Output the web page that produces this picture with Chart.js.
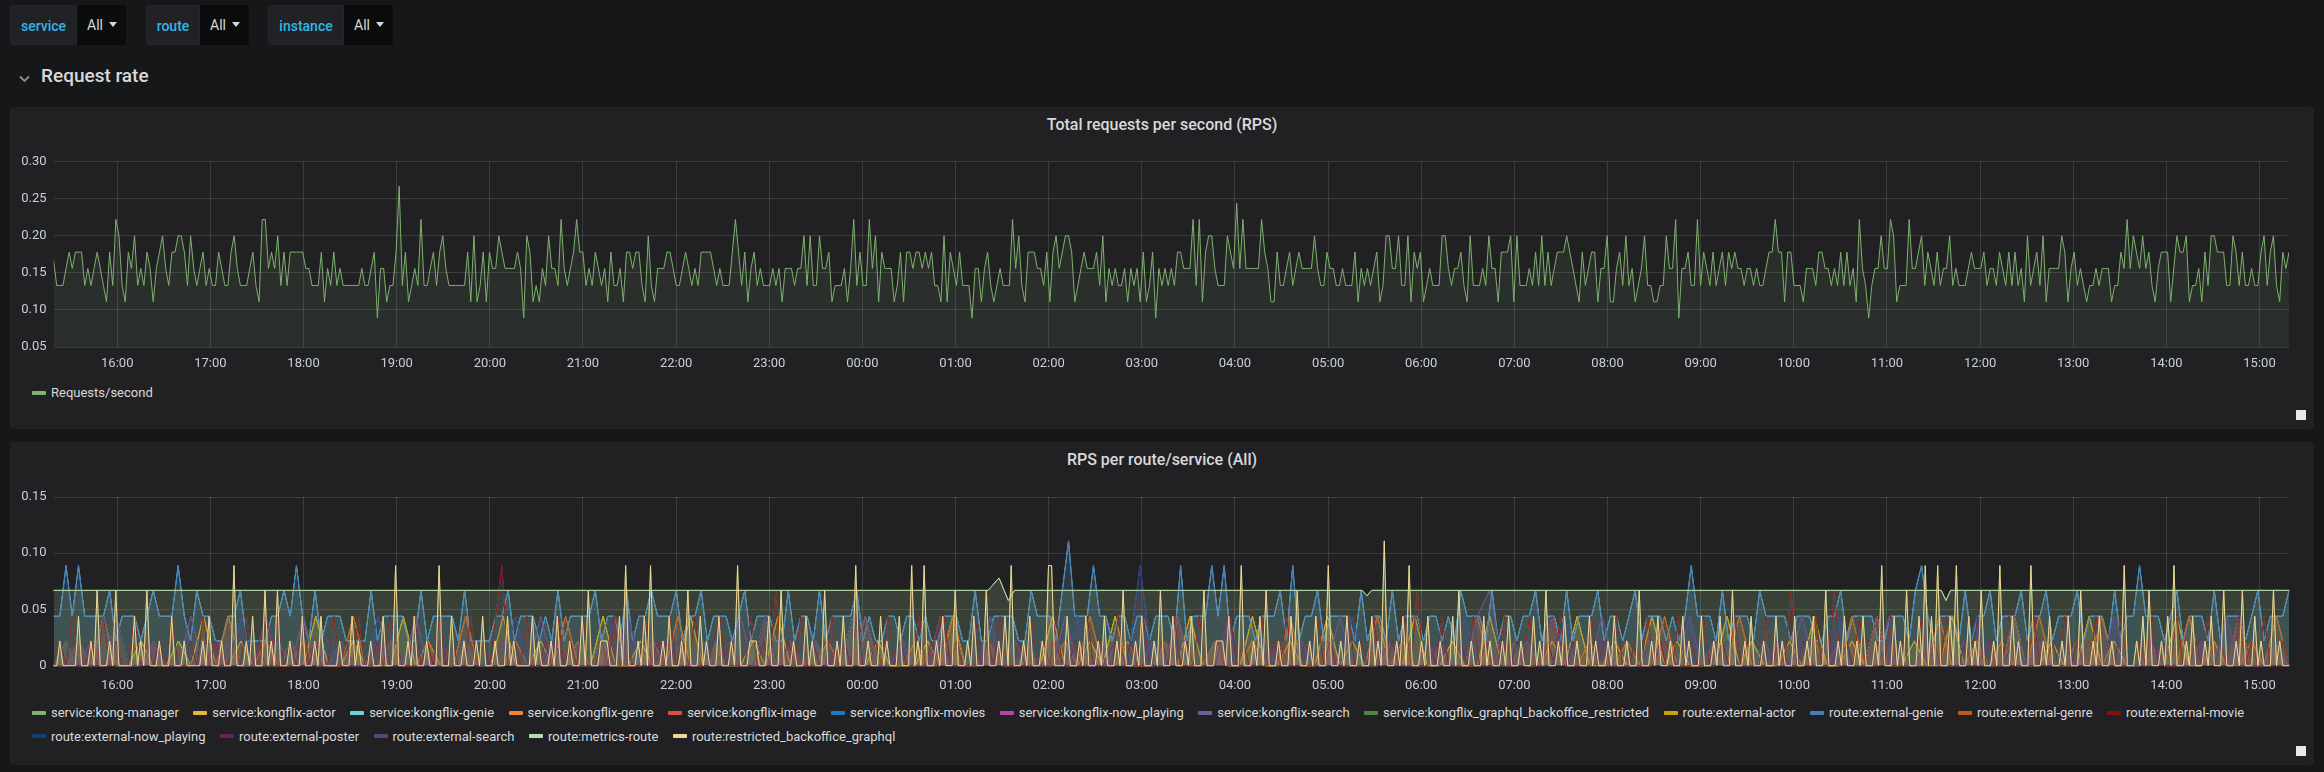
<!DOCTYPE html>
<html>
<head>
<meta charset="utf-8">
<script src="https://cdn.jsdelivr.net/npm/chart.js@4.4.1/dist/chart.umd.min.js"></script>
<style>
  html, body { margin: 0; padding: 0; }
  body { width: 2324px; height: 772px; background: #161719; font-family: Roboto, sans-serif; color: #d8d9da; position: relative; overflow: hidden; }
  .var { position: absolute; top: 5px; height: 40px; display: flex; font-size: 14px; }
  .var .lbl { background: #202226; color: #33b5e5; line-height: 40px; text-align: center; border-radius: 3px 0 0 3px; font-weight: 500; border: 1px solid #26282c; box-sizing: border-box; }
  .var .val { background: #0b0c0e; color: #d8d9da; line-height: 40px; padding-left: 10px; border-radius: 0 3px 3px 0; box-sizing: border-box; }
  .caret { display: inline-block; width: 0; height: 0; border-left: 4px solid transparent; border-right: 4px solid transparent; border-top: 5px solid #d8d9da; margin-left: 6px; vertical-align: middle; position: relative; top: -2px; }
  .row-title { position: absolute; left: 41px; top: 64px; line-height: 24px; font-size: 19px; font-weight: 500; color: #d8d9da; }
  .chev { position: absolute; left: 19px; top: 75px; }
  .panel { position: absolute; left: 10px; width: 2304px; background: #212124; border-radius: 3px; }
  .ptitle { position: absolute; left: 0; right: 0; top: 8px; line-height: 20px; text-align: center; font-size: 16px; font-weight: 500; color: #d8d9da; }
  .panel canvas { position: absolute; left: 0; }
  .legend { position: absolute; left: 22px; right: 20px; display: flex; flex-wrap: wrap; font-size: 13px; color: #d8d9da; }
  .item { display: flex; align-items: center; margin-right: 14.5px; height: 23.7px; white-space: nowrap; }
  .sw { width: 14px; height: 4px; margin-right: 5px; border-radius: 1px; }
  .brk { flex-basis: 100%; height: 0; }
  .handle { position: absolute; width: 10px; height: 10px; background: #e9e9e9; }
</style>
</head>
<body>

<div class="var" style="left:10px"><div class="lbl" style="width:67px">service</div><div class="val" style="width:49px">All<span class="caret"></span></div></div>
<div class="var" style="left:146px"><div class="lbl" style="width:54px">route</div><div class="val" style="width:49px">All<span class="caret"></span></div></div>
<div class="var" style="left:268px"><div class="lbl" style="width:76px">instance</div><div class="val" style="width:49px">All<span class="caret"></span></div></div>

<svg class="chev" width="12" height="8"><polyline points="1,1.5 5.5,6 10,1.5" fill="none" stroke="#8e8e8e" stroke-width="1.8"/></svg>
<div class="row-title">Request rate</div>

<div class="panel" style="top:107px;height:322px">
  <div class="ptitle">Total requests per second (RPS)</div>
  <canvas id="rpsChart" width="2304" height="240" style="top:33px;width:2304px;height:240px"></canvas>
  <div class="legend" id="rpsLegend" style="top:274px"></div>
  <div class="handle" style="left:2286px;top:303px"></div>
</div>

<div class="panel" style="top:442px;height:323px">
  <div class="ptitle">RPS per route/service (All)</div>
  <canvas id="routeChart" width="2304" height="220" style="top:38px;width:2304px;height:220px"></canvas>
  <div class="legend" id="routeLegend" style="top:258.7px"></div>
  <div class="handle" style="left:2286px;top:304px"></div>
</div>

<script>
// x axis: 24h window starting 15:19, one tick per hour
const hourLabels = ['16:00','17:00','18:00','19:00','20:00','21:00','22:00','23:00','00:00','01:00','02:00','03:00',
  '04:00','05:00','06:00','07:00','08:00','09:00','10:00','11:00','12:00','13:00','14:00','15:00'];
const rangeMinutes = 1440;
const firstHourMinute = 41;

const rpsTicks = [0.05, 0.10, 0.15, 0.20, 0.25, 0.30];
const routeTicks = [0, 0.05, 0.10, 0.15];

// total requests per second, one value every ~2 minutes
const totalRps = [
  .167,.133,.133,.133,.156,.178,.156,.178,.178,.178,.133,.156,.133,.156,.178,.156,.133,.111,.178,.133,
  .222,.2,.133,.111,.178,.156,.2,.133,.156,.133,.178,.156,.111,.156,.178,.2,.156,.133,.178,.178,
  .2,.2,.178,.133,.2,.156,.133,.156,.178,.133,.156,.133,.133,.178,.156,.133,.133,.178,.2,.156,
  .133,.133,.133,.156,.178,.133,.111,.222,.222,.156,.178,.156,.2,.133,.178,.133,.178,.178,.178,.178,
  .178,.156,.156,.133,.133,.133,.178,.111,.156,.133,.178,.133,.156,.133,.133,.133,.133,.133,.133,.156,
  .133,.133,.156,.178,.089,.156,.156,.111,.133,.133,.178,.267,.133,.178,.111,.133,.156,.133,.222,.133,
  .133,.156,.178,.133,.178,.2,.156,.133,.133,.133,.133,.133,.133,.178,.111,.2,.111,.133,.178,.111,
  .178,.156,.156,.2,.178,.156,.156,.156,.156,.178,.156,.089,.2,.178,.111,.133,.111,.156,.133,.2,
  .156,.156,.133,.222,.156,.133,.156,.178,.222,.178,.178,.133,.156,.133,.178,.156,.133,.156,.111,.178,
  .133,.133,.156,
  .111,.178,.178,.156,.178,.178,.133,.111,.2,.133,.111,.156,.156,.156,.178,.178,.156,.133,.133,.156,
  .178,.156,.133,.156,.133,.178,.178,.178,.178,.156,.133,.156,.133,.133,.133,.178,.222,.178,.133,.178,
  .111,.156,.178,.133,.156,.133,.133,.133,.156,.133,.156,.111,.156,.156,.156,.133,.156,.156,.2,.133,
  .2,.133,.133,.2,.156,.156,.178,.111,.133,.133,.133,.156,.111,.156,.222,.133,.178,.133,.133,.222,
  .156,.2,.111,.178,.156,.156,.156,.111,.133,.178,.111,.178,.178,.156,.178,.178,.156,.178,.156,.178,
  .133,.133,.111,.2,.111,.178,.156,.133,.178,.133,.133,.133,.089,.156,.156,.111,.156,.178,.133,.111,
  .133,.156,.133,.133,.133,.222,.156,.2,.133,.111,.178,.178,.178,.156,.156,.133,.178,.111,.178,.2,
  .156,.178,.2,.2,.178,.111,.133,.156,.178,.156,.156,.156,.178,.133,.2,.111,.156,.133,.156,.133,
  .133,.156,.111,.156,.133,.156,.111,.178,.111,.133,.178,.089,.156,.133,.156,.133,.156,.133,.178,
  .178,.156,.156,.156,.222,.133,.222,.111,.178,.2,.2,.156,.133,.133,.133,.2,.178,.156,.244,.156,
  .222,.156,.156,.156,.156,.156,.222,.178,.156,.111,.111,.178,.133,.133,.156,.178,.133,.156,.178,.156,
  .156,.156,.156,.2,.156,.133,.133,.178,.156,.156,.133,.133,.156,.133,.133,.133,.178,.111,.156,.133,
  .156,.133,.156,.178,.111,.133,.2,.2,.156,.156,.2,.133,.133,.2,.111,.178,.156,.178,.111,.133,
  .156,.133,.133,.133,.2,.2,.156,.133,.156,.156,.178,.133,.111,.2,.133,.133,.133,.156,.133,.2,
  .156,.156,.111,.178,.178,.178,.2,.111,.2,.133,.133,.133,.156,.133,.178,.133,.2,.133,.178,.133,
  .156,.178,.178,.178,.2,.178,.156,.133,.111,.178,.133,.156,.178,.178,.111,.156,.156,.2,.111,.111,
  .156,.178,.133,.2,.133,.156,.111,.133,.156,.2,.133,.133,.111,.111,.133,.133,.2,.156,.156,.222,
  .089,.156,.156,.178,.133,.133,.222,.133,.178,.156,.133,.178,.133,.156,.178,.133,.178,.156,.178,.156,
  .156,.133,.156,.156,.133,.156,.133,.133,.156,.178,.178,.222,.178,.178,.111,.178,.178,.133,.133,.133,
  .111,.156,.156,.156,.133,.178,.178,.156,.156,.133,.156,.133,.178,.133,.178,.133,.156,.111,.222,.156,
  .133,.089,.133,.156,.156,.2,.156,.156,.222,.2,.111,.133,.133,.133,.222,.156,.156,.178,.2,.133,
  .178,.156,.133,.178,.133,.156,.156,.2,.133,.156,.133,.133,.133,.156,.178,.156,.156,.156,.178,.133,
  .156,.156,.133,.178,.156,.133,.178,.133,.178,.133,.156,.111,.2,.133,.156,.178,.133,.2,.111,.156,
  .156,.156,.156,.2,.178,.111,.156,.178,.133,.156,.133,.111,.133,.133,.156,.133,.156,.156,.156,.111,
  .133,.133,.178,.156,.222,.156,.2,.178,.156,.2,.156,.178,.133,.111,.156,.178,.178,.178,.111,.156,
  .2,.178,.178,.2,.111,.133,.133,.156,.111,.178,.133,.2,.2,.178,.178,.178,.133,.133,.2,.178,
  .133,.178,.133,.133,.156,.133,.133,.178,.2,.133,.178,.2,.133,.111,.178,.156,.178
];

// kong-manager / metrics-route: flat with a few wiggles (minute, value)
const metricsMinutes = [0, 602, 609, 615, 619, 843, 846, 849, 1216, 1219, 1222, 1440];
const metricsRoute = [.067, .067, .078, .058, .067, .067, .062, .067, .067, .058, .067, .067];

// restricted backoffice graphql, every ~2 minutes
const backofficeGraphql = [
  0,0,.022,0,0,0,0,0,.044,0,0,0,.022,0,.067,0,0,0,.022,0,.067,0,0,0,0,0,.044,0,.022,0,.067,0,0,0,.022,0,0,0,.044,0,
  0,0,.022,0,0,0,0,0,.022,0,.044,0,0,0,.022,0,0,0,.089,0,0,0,.022,0,.044,0,0,0,.067,0,.022,0,.067,0,0,0,.022,0,0,0,
  .044,0,0,0,.022,0,.044,0,0,0,0,0,.022,0,0,0,.044,0,.022,0,0,0,.022,0,0,0,.044,0,0,0,.089,0,0,0,.022,0,.044,0,0,0,
  .022,0,0,0,.089,0,0,0,.044,0,0,0,.022,0,0,0,.022,0,.044,0,0,0,.022,0,0,0,.044,0,.022,0,0,0,0,0,.044,0,.022,0,0,0,
  .022,0,.044,0,0,0,.022,0,0,0,.044,0,.067,0,0,0,.022,.022,.022,0,0,0,.044,0,.089,0,0,0,.022,0,.044,0,.089,0,0,0,.022,0,.044,0,
  0,0,.022,0,.067,0,0,0,.044,0,.022,0,0,0,.044,0,0,0,.022,0,.089,0,0,0,.022,.022,.022,0,0,0,.044,0,0,0,.067,0,0,0,.022,0,
  0,0,.044,0,.022,0,0,0,.067,0,0,0,.022,0,.044,0,0,0,.089,0,0,0,.022,0,0,0,.044,0,.022,0,0,0,.044,0,0,0,.089,0,.022,0,
  .089,0,0,0,.022,0,.044,0,0,0,.067,0,0,0,.022,0,.044,0,0,0,.067,0,0,0,.022,0,.044,0,.089,0,0,0,.022,0,.044,0,0,0,.022,0,
  .089,.089,0,0,0,0,.044,0,0,0,.022,0,.044,0,0,0,.022,0,.044,0,0,0,.022,0,.067,0,0,0,.022,0,.044,0,0,0,.022,0,.067,0,0,0,
  .044,0,0,0,.022,0,.044,0,0,0,.067,0,0,0,.022,.022,.022,0,.044,0,0,0,.089,0,0,0,.022,0,.044,0,.067,0,0,0,.022,0,0,0,.044,0,
  .067,0,0,0,.022,0,.044,0,0,0,.089,0,0,0,.022,0,.044,0,0,0,.022,0,0,0,.044,0,.022,0,.111,0,0,0,.022,0,.044,0,.089,0,0,0,
  .022,0,.044,0,0,0,.022,0,0,0,.044,0,.067,0,0,0,.022,0,0,0,.044,0,.022,0,0,0,.022,0,.044,0,0,0,.022,0,0,0,.044,0,.022,0,
  .067,0,0,0,.022,0,.044,0,0,0,.022,0,0,0,.044,0,.022,0,0,0,.022,0,.044,0,0,0,.022,0,0,0,.067,0,0,0,.022,0,.044,0,0,0,
  .022,0,0,0,.044,0,.022,0,0,0,.044,0,0,0,.022,0,.044,0,0,0,.067,0,0,0,.022,0,.044,0,0,0,.022,0,0,0,.044,0,.022,0,0,0,
  .044,0,0,0,.022,0,.044,0,0,0,.067,0,0,0,.022,0,.044,0,0,0,.022,0,.044,0,0,0,.022,0,.089,0,0,0,.044,0,.022,0,.067,0,0,0,
  .044,0,.089,0,.044,0,.089,0,0,0,.044,0,.089,0,0,0,.044,0,.022,0,.067,0,0,0,.022,0,.089,0,0,0,.044,0,.022,0,0,0,.089,0,0,0,
  .022,0,.044,0,0,0,.022,0,.044,0,0,0,.067,0,0,0,.022,0,.044,0,0,0,.022,0,0,0,.089,0,0,0,.022,0,.044,0,.067,0,0,0,.022,0,
  .044,0,.089,0,0,0,.022,0,.044,0,0,0,.022,0,.044,0,0,0,.067,0,0,0,.022,0,.067,0,0,0,.044,0,.022,0,0,0,.067,0,.022,0,0,0
];

// kongflix-genie / external-genie, every ~4 minutes
const kongflixGenie = [
  .044,.044,.089,.044,.089,.044,.044,.044,.044,.067,.022,.044,.044,.044,.022,.044,.067,.044,.044,.044,
  .089,.044,.022,.067,.044,.044,.022,.022,.044,.044,.067,.022,.022,.022,.022,.044,.044,.067,.044,.089,
  .044,.022,.067,.022,.044,.044,.044,.022,.022,.022,.022,.067,.022,.044,.044,.044,.044,.022,.022,.067,
  .022,.044,.044,.044,.044,.022,.067,.022,.022,.022,.022,.044,.044,.067,.022,.044,.044,.044,.022,.044,
  .022,.067,.022,.044,.044,.044,.044,.067,.022,.044,.044,.022,.067,.022,.044,.044,.067,.044,.044,.044,
  .067,.022,.044,.044,.067,.022,.044,.044,.044,.022,.044,.067,.022,.044,.044,.044,.022,.022,.067,.022,
  .044,.044,.022,.067,.022,.044,.044,.044,.044,.067,.022,.044,.022,.022,.044,.044,.022,.044,.044,.022,
  .044,.022,.022,.044,.044,.044,.022,.022,.067,.022,.022,.044,.044,.044,.044,.022,.022,.067,.044,.044,
  .044,.022,.067,.111,.044,.044,.044,.089,.044,.044,.022,.044,.044,.022,.044,.044,.022,.044,.044,.044,
  .022,.089,.022,.044,.044,.044,.089,.044,.089,.022,.044,.044,.044,.022,.044,.044,.044,.067,.022,.089,
  .022,.044,.044,.067,.022,.044,.044,.044,.044,.022,.067,.022,.044,.044,.022,.067,.022,.044,.044,.044,
  .022,.044,.044,.022,.044,.022,.067,.044,.044,.044,.022,.067,.022,.044,.044,.022,.044,.044,.067,.022,
  .044,.044,.022,.067,.022,.044,.044,.044,.067,.022,.044,.044,.022,.044,.067,.022,.044,.044,.044,.022,
  .044,.022,.044,.089,.044,.044,.044,.022,.067,.022,.044,.044,.044,.022,.067,.044,.044,.044,.044,.022,
  .044,.044,.044,.022,.022,.044,.044,.067,.022,.044,.044,.044,.044,.022,.022,.044,.044,.044,.022,.067,
  .089,.044,.022,.044,.044,.044,.022,.067,.022,.044,.044,.067,.022,.044,.044,.044,.067,.022,.044,.044,
  .067,.022,.044,.044,.044,.067,.022,.044,.044,.044,.022,.067,.022,.044,.044,.089,.044,.044,.044,.022,
  .044,.067,.022,.044,.044,.044,.022,.067,.022,.044,.044,.044,.022,.044,.067,.022,.044,.044,.044,.067
];

// kongflix-movies / external-movie, every ~4 minutes
const kongflixMovies = [
  0,.022,0,.044,0,0,.022,0,.044,0,.022,0,0,.044,0,.022,0,.022,0,.044,
  0,0,.022,0,.044,0,.022,0,0,.022,0,.044,0,.022,0,0,.044,0,.022,0,
  .044,0,.022,0,0,.044,0,.022,0,.044,0,0,.022,0,.044,.022,0,0,.044,0,
  .022,0,.044,0,.022,0,0,.044,0,.022,0,.044,.089,0,.022,0,.044,0,0,.022,
  0,.044,0,.022,0,.044,0,0,.022,0,.044,0,.022,0,0,.044,0,.022,0,.044,
  0,.022,0,.044,0,0,.022,.044,0,.022,0,0,.044,0,.022,0,.067,0,.022,0,
  .044,0,.022,0,0,.044,0,.022,0,.044,0,0,.022,0,.044,0,.022,0,0,.044,
  0,.022,0,.044,0,.022,0,0,.044,0,.022,0,.044,0,0,.022,0,.044,0,.022,
  0,.044,0,0,.022,0,.044,0,.022,0,0,.044,0,.022,0,.044,0,0,.022,0,
  .044,0,.022,0,.044,0,0,.022,0,.044,0,.022,0,0,.044,0,.022,0,.044,0,
  0,.022,0,.044,0,.022,0,0,.044,0,.022,0,.044,0,0,.022,0,.044,0,.067,
  0,.022,0,.044,0,0,.022,0,.044,0,.022,0,0,.044,0,.022,0,.044,0,0,
  .022,0,.044,0,.022,0,0,.044,0,.022,0,.044,0,0,.022,0,.044,0,.022,0,
  0,.044,0,.022,0,.044,0,0,.022,0,.044,0,.022,0,0,.044,0,.022,0,.067,
  0,.022,0,.044,0,0,.067,0,.022,0,.044,0,0,.022,0,.044,0,.022,0,0,
  .044,0,.022,0,.044,0,0,.022,0,.044,0,.022,0,0,.044,0,.022,0,.044,0,
  0,.022,0,.044,0,.022,0,0,.044,0,.022,0,.044,0,0,.022,0,.044,0,.022,
  0,.044,0,0,.022,0,.044,0,.022,0,0,.044,0,.022,0,.044,0,0,.022,0
];

// smaller services, every ~8 minutes
const kongflixActor = [
  0,.022,0,0,.044,0,0,.022,0,0,.022,0,.044,0,0,.022,0,0,0,.022,
  0,.044,0,0,.022,0,0,0,.044,0,.022,0,0,.022,0,0,.044,0,0,.022,
  0,0,.022,0,.044,0,0,.022,0,0,0,.044,0,.022,0,0,.022,0,.044,0,
  0,.022,0,0,.044,0,.022,0,0,0,.022,0,.044,0,0,.022,0,0,.022,0,
  .044,0,0,.022,0,.044,0,0,0,.022,0,.044,0,.022,0,0,.044,0,0,.022,
  0,0,.044,0,.022,0,0,.022,0,.044,0,0,.022,0,0,.044,0,.022,0,0,
  .022,0,.044,0,0,.022,0,0,.044,0,.022,0,0,0,.044,0,.022,0,0,.022,
  0,.044,0,0,.022,0,.044,0,0,.022,0,0,.044,0,.022,0,0,.044,0,0,
  .022,0,0,.044,0,.022,0,0,.022,0,.044,0,0,.022,0,.044,0,0,.022,0
];
const kongflixGenre = [
  0,0,.022,0,0,.044,0,0,.022,0,0,0,.022,0,.044,0,0,.022,0,0,
  .022,0,0,0,.044,0,0,.022,0,0,.022,0,0,.044,0,0,0,.022,0,0,
  0,.044,0,0,.022,0,0,0,.022,0,.044,0,0,.022,0,0,0,.044,0,.022,
  0,0,.022,0,0,.044,0,0,0,.022,0,0,.044,0,0,.022,0,0,.022,0,
  0,.022,0,.044,0,0,.022,0,0,0,.044,0,0,.022,0,0,.022,0,0,.044,
  0,0,.022,0,0,0,.044,0,.022,0,0,.022,0,0,.044,0,0,0,.022,0,
  .044,0,0,.022,0,0,.022,0,0,.044,0,0,0,.022,0,.044,0,0,.022,0,
  0,.022,0,0,.044,0,0,.022,0,0,0,.044,0,0,.022,0,.022,0,0,.044,
  0,0,.022,0,.044,0,0,0,.022,0,0,.044,0,.022,0,0,.022,0,.044,0
];
const kongflixImage = [
  0,0,0,.022,0,0,0,0,.022,0,0,0,0,.022,0,0,0,.044,0,0,
  0,.022,0,0,0,0,.022,0,0,0,0,.022,0,0,0,0,.022,0,0,0,
  .022,0,0,0,0,.044,0,0,0,.022,0,0,0,0,.022,0,0,0,0,.022,
  0,0,0,.022,0,0,0,0,.022,0,0,.044,0,0,0,.022,0,0,0,0,
  .022,0,0,0,0,.022,0,0,0,.022,0,0,0,0,.044,0,0,0,.022,0,
  0,0,.022,0,0,0,0,.022,0,0,0,.022,0,0,0,0,.022,0,0,0,
  .044,0,0,0,.022,0,0,0,0,.022,0,0,0,.022,0,0,0,0,.022,0,
  0,0,.022,0,0,0,.044,0,0,0,.022,0,0,0,0,.022,0,0,0,.022,
  0,0,0,.022,0,0,0,0,.022,0,0,0,.022,0,0,.044,0,0,0,0
];
const kongflixNowPlaying = [
  0,.022,0,0,0,.044,0,0,.022,0,0,0,.022,0,0,.044,0,0,0,.022,
  0,0,.022,0,0,0,.044,0,0,.022,0,0,0,.022,0,0,0,.044,0,0,
  .022,0,0,0,.022,0,.044,0,0,0,.022,0,0,.022,0,0,0,.044,0,0,
  0,.022,0,0,.044,0,0,0,.022,0,0,.022,0,0,0,.044,0,0,.022,0,
  0,0,.044,0,0,.022,0,.089,0,0,.022,0,0,0,.044,0,0,.022,0,0,
  .022,0,0,0,.044,0,0,.022,0,0,0,.022,0,.044,0,0,0,.022,0,0,
  0,.044,0,0,.022,0,0,0,.022,0,0,.044,0,0,.022,0,0,0,.022,0,
  .022,0,0,.044,0,0,0,.022,0,0,.022,0,0,0,.044,0,0,.022,0,0,
  0,.022,0,0,0,.044,0,0,.022,0,0,0,.022,0,.044,0,0,0,.022,0
];
const kongflixSearch = [
  0,0,.022,0,.044,0,0,0,.022,0,0,.044,0,0,.022,0,0,0,.022,0,
  .044,0,0,.022,0,0,0,.022,0,.044,0,0,0,.022,0,0,.022,0,0,.044,
  0,0,.022,0,0,0,.044,0,.022,0,0,0,.022,0,0,.044,0,0,.022,0,
  0,.022,0,0,0,.044,0,0,.022,0,0,.022,0,0,0,.044,0,.022,0,0,
  0,.044,0,0,.022,0,0,0,.022,0,.044,0,0,.022,0,0,0,.022,0,0,
  .022,0,0,.044,0,0,.022,0,0,0,.022,0,0,0,.044,.067,0,0,.022,0,
  0,.022,0,0,.044,0,0,0,.022,0,0,.044,0,.022,0,0,0,.022,0,0,
  .044,0,0,.022,0,0,0,.044,0,0,.022,0,0,.022,0,0,0,.044,0,.022,
  0,0,.022,0,0,.044,0,0,0,.022,0,0,.022,0,.044,0,0,0,.022,0
];

const routeNames = ['service:kong-manager','service:kongflix-actor','service:kongflix-genie','service:kongflix-genre',
  'service:kongflix-image','service:kongflix-movies','service:kongflix-now_playing','service:kongflix-search',
  'service:kongflix_graphql_backoffice_restricted','route:external-actor','route:external-genie','route:external-genre',
  'route:external-movie','route:external-now_playing','route:external-poster','route:external-search',
  'route:metrics-route','route:restricted_backoffice_graphql'];
const routeColors = ['#7EB26D','#EAB839','#6ED0E0','#EF843C','#E24D42','#1F78C1','#BA43A9','#705DA0','#508642',
  '#CCA300','#447EBC','#C15C17','#890F02','#0A437C','#6D1F62','#584477','#B7DBAB','#F4D598'];
const routeValues = [metricsRoute, kongflixActor, kongflixGenie, kongflixGenre, kongflixImage, kongflixMovies,
  kongflixNowPlaying, kongflixSearch, backofficeGraphql, kongflixActor, kongflixGenie, kongflixGenre,
  kongflixMovies, kongflixNowPlaying, kongflixImage, kongflixSearch, metricsRoute, backofficeGraphql];

const gridColor = 'rgba(255,255,255,0.13)';
const tickFont = { family: 'Roboto', size: 13 };

function toPoints(values, minutes) {
  return values.map((v, i) => ({ x: minutes ? minutes[i] : i * rangeMinutes / (values.length - 1), y: v }));
}

function hex2rgba(hex, a) {
  const n = parseInt(hex.slice(1), 16);
  return 'rgba(' + (n >> 16) + ',' + ((n >> 8) & 255) + ',' + (n & 255) + ',' + a + ')';
}

function timeAxis(height, pad) {
  return {
    type: 'linear', min: 0, max: rangeMinutes,
    afterBuildTicks: s => { s.ticks = hourLabels.map((_, k) => ({ value: firstHourMinute + 60 * k })); },
    afterFit: s => { s.height = height; },
    ticks: { callback: (v, i) => hourLabels[i], color: '#c7d0d9', font: tickFont, padding: pad, maxRotation: 0, autoSkip: false },
    grid: { color: gridColor, drawTicks: false },
    border: { display: false }
  };
}

function valueAxis(min, max, ticks) {
  return {
    type: 'linear', min: min, max: max,
    afterBuildTicks: s => { s.ticks = ticks.map(v => ({ value: v })); },
    afterFit: s => { s.width = 43.6; },
    ticks: { callback: v => v === 0 ? '0' : v.toFixed(2), color: '#c7d0d9', font: tickFont, padding: 7 },
    grid: { color: gridColor, drawTicks: false },
    border: { display: false }
  };
}

function baseOptions(xAxis, yAxis, padTop) {
  return {
    responsive: false, animation: false, events: [],
    layout: { padding: { top: padTop, right: 25, left: 0, bottom: 0 } },
    plugins: { legend: { display: false }, tooltip: { enabled: false } },
    elements: { point: { radius: 0 }, line: { tension: 0, borderWidth: 1 } },
    scales: { x: xAxis, y: yAxis }
  };
}

new Chart(document.getElementById('rpsChart').getContext('2d'), {
  type: 'line',
  data: {
    datasets: [{
      label: 'Requests/second',
      data: toPoints(totalRps),
      borderColor: '#7EB26D',
      backgroundColor: hex2rgba('#7EB26D', 0.1),
      fill: 'start'
    }]
  },
  options: baseOptions(timeAxis(33, 8.5), valueAxis(0.05, 0.30, rpsTicks), 21.7)
});

new Chart(document.getElementById('routeChart').getContext('2d'), {
  type: 'line',
  data: {
    datasets: routeNames.map((name, i) => ({
      label: name,
      data: toPoints(routeValues[i], routeValues[i] === metricsRoute ? metricsMinutes : null),
      borderColor: routeColors[i],
      backgroundColor: hex2rgba(routeColors[i], 0.1),
      fill: 'origin',
      order: routeNames.length - i,
      clip: 2
    }))
  },
  options: baseOptions(timeAxis(34.3, 12), valueAxis(0, 0.15, routeTicks), 17)
});

// html legends
function buildLegend(el, names, colors, breakAfter) {
  names.forEach((name, i) => {
    const item = document.createElement('div');
    item.className = 'item';
    item.innerHTML = '<div class="sw" style="background:' + colors[i] + '"></div>' + name;
    el.appendChild(item);
    if (i + 1 === breakAfter) {
      const b = document.createElement('div');
      b.className = 'brk';
      el.appendChild(b);
    }
  });
}
buildLegend(document.getElementById('rpsLegend'), ['Requests/second'], ['#7EB26D'], 0);
buildLegend(document.getElementById('routeLegend'), routeNames, routeColors, 13);
</script>
</body>
</html>
